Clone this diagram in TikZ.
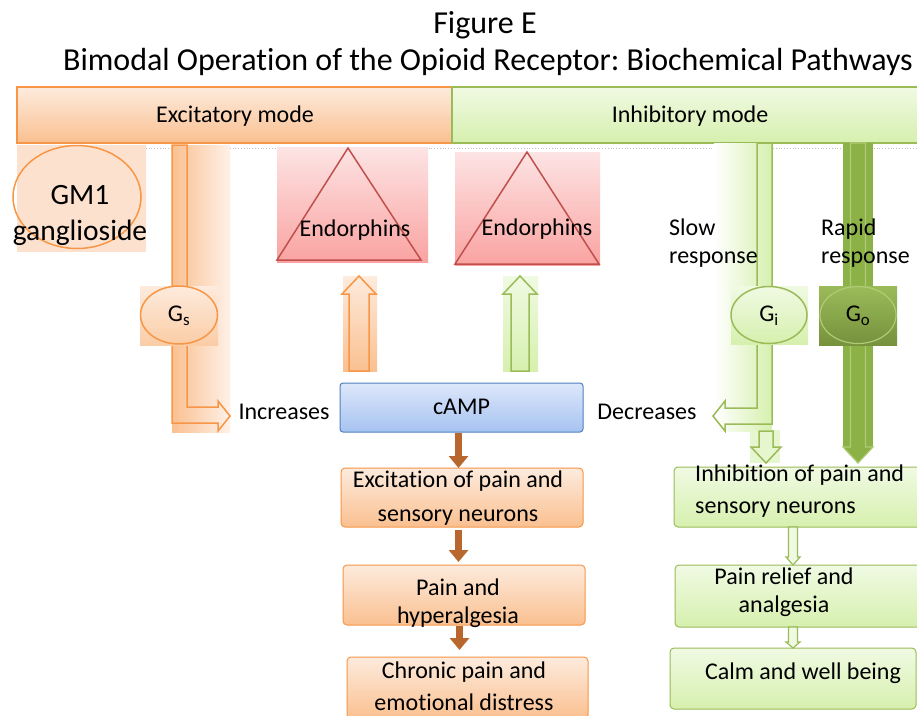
\documentclass[tikz,border=0pt]{standalone}
\usepackage{fontspec}
\setmainfont{Carlito}[Ligatures=CommonOff]
\usetikzlibrary{shapes.geometric,arrows.meta,calc}
\definecolor{orB}{HTML}{F79646}
\definecolor{orT}{HTML}{FDEBDD}
\definecolor{orBt}{HTML}{FAC090}
\definecolor{orL}{HTML}{FEF1E8}
\definecolor{grB}{HTML}{9BBB59}
\definecolor{grT}{HTML}{F0FAE3}
\definecolor{grBt}{HTML}{D6F0AE}
\definecolor{rdB}{HTML}{C0504D}
\definecolor{pkT}{HTML}{FDE4E4}
\definecolor{pkB}{HTML}{F9A3A1}
\definecolor{blB}{HTML}{4F81BD}
\definecolor{blT}{HTML}{DDE7FA}
\definecolor{blBt}{HTML}{A6C3F1}
\definecolor{brn}{HTML}{B8672E}
\definecolor{dgr}{HTML}{8CB146}
\definecolor{dgrT}{HTML}{9BBB59}
\definecolor{dgrB}{HTML}{76923C}
\definecolor{dgrL}{HTML}{AECB76}
\newcommand\blockarrow[6][]{%
  \path[#1] let \p1=(#2), \p2=(#3) in
   ({\x1-#4},{\y1}) -- ({\x1+#4},{\y1}) -- ({\x1+#4},{\y2+#6}) -- ({\x1+#5},{\y2+#6}) -- ({\x1},{\y2})
   -- ({\x1-#5},{\y2+#6}) -- ({\x1-#4},{\y2+#6}) -- cycle;}
\tikzset{
  box/.style={inner sep=0pt, outer sep=0pt, anchor=north west},
  obox/.style={box, draw=orB, line width=1pt, top color=orT, bottom color=orBt, rounded corners=4pt},
  gbox/.style={box, draw=grB, line width=1pt, top color=grT, bottom color=grBt, rounded corners=4pt},
  pbox/.style={box, top color=pkT, bottom color=pkB},
  txt/.style={inner sep=0pt, font=\fontsize{24}{28}\selectfont, align=center},
  ltxt/.style={txt, align=left, anchor=west},
  ttl/.style={inner sep=0pt, font=\fontsize{32}{36}\selectfont, anchor=base},
  brarrow/.style={line width=7pt, brn, -{Triangle[width=19pt,length=12pt]}},
  tri/.style={draw=rdB, line width=1.5pt},
}
\begin{document}
\frenchspacing
\begin{tikzpicture}[x=1pt,y=-1pt]
\useasboundingbox (0,0) rectangle (917,715);
\fill[white] (0,0) rectangle (917,715);

% titles
\node[ttl] (t1) at (485,33) {Figure E};
\node[ttl] (t2) at (488,70) {Bimodal Operation of the Opioid Receptor: Biochemical Pathways};

% mode bars
\node[box, draw=orB, line width=1.5pt, top color=orT, bottom color=orBt, minimum width=435pt, minimum height=56pt] (exm) at (17,87) {};
\node[box, draw=grB, line width=1.5pt, top color=grT, bottom color=grBt, minimum width=470pt, minimum height=56pt] (inm) at (452,87) {};
\node[txt] (exmt) at (235,116) {Excitatory mode};
\node[txt] (inmt) at (690,116) {Inhibitory mode};
\coordinate (dotend) at (917,148);
\draw[gray!50, dotted, line width=0.8pt] ([yshift=-5pt]exm.south west) -- (dotend);

% GM1
\node[box, fill=orT!80!orBt, minimum width=129pt, minimum height=107pt] (gmbg) at (17,145) {};
\node[ellipse, draw=orB, line width=1.5pt, minimum width=128pt, minimum height=103pt, inner sep=0pt] (gm) at (77,197) {};
\node[inner sep=0pt, font=\fontsize{29.5}{36}\selectfont, align=center] (gmt) at (80,215) {GM1\\ganglioside};

% left orange strip and bent arrow
\node[box, left color=orBt, right color=orL, minimum width=58pt, minimum height=287pt] (ls) at (172,145) {};
\draw[orB, line width=1.5pt] (172,145) -- (187,145) -- (187,407) -- (218,407) -- (218,401) -- (230,416)
   -- (218,431) -- (218,423) -- (172,423) -- cycle;

% Gs
\node[box, top color=orT, bottom color=orBt!80, minimum width=78pt, minimum height=59pt] (gsbg) at (140,286) {};
\node[ellipse, draw=orB, line width=1.5pt, top color=orT, bottom color=orBt!80, minimum width=77pt, minimum height=58pt, inner sep=0pt] (gs) at (179,315) {};
\node[txt] (gst) at ([yshift=-1pt]gs.center) {G\textsubscript{s}};

% Endorphins
\node[pbox, minimum width=151pt, minimum height=115pt] (e1) at (277,147) {};
\draw[tri] (348,148) -- (421,260) -- (277,260) -- cycle;
\node[txt] (e1t) at (355,230) {Endorphins};
\node[pbox, minimum width=145pt, minimum height=113pt] (e2) at (455,152) {};
\draw[tri] (527,152) -- (599,264) -- (455,264) -- cycle;
\node[txt] (e2t) at (537,229) {Endorphins};

% up arrows
\node[box, top color=orT, bottom color=orBt, minimum width=34pt, minimum height=95pt] (ua1bg) at (343,276) {};
\coordinate (ua1s) at (359,371);
\coordinate (ua1e) at (359,276);
\blockarrow[draw=orB, line width=1.5pt]{ua1s}{ua1e}{10pt}{17pt}{(-18pt)}
\node[box, top color=grT, bottom color=grBt, minimum width=35pt, minimum height=95pt] (ua2bg) at (503,276) {};
\coordinate (ua2s) at (520,371);
\coordinate (ua2e) at (520,276);
\blockarrow[draw=grB, line width=1.5pt]{ua2s}{ua2e}{9pt}{17pt}{(-18pt)}

% cAMP
\node[box, draw=blB, line width=1pt, top color=blT, bottom color=blBt, rounded corners=3pt, minimum width=243pt, minimum height=49pt] (camp) at (340,383) {};
\node[txt] (campt) at ([yshift=1pt]camp.center) {cAMP};
\node[txt] (inc) at (284,412) {Increases};
\node[txt] (dec) at (647,412) {Decreases};

% orange chain
\node[obox, minimum width=242pt, minimum height=59pt] (exc) at (341,468) {};
\node[txt, font=\fontsize{24}{34}\selectfont] (exct) at (458,498) {Excitation of pain and\\sensory neurons};
\node[obox, minimum width=242pt, minimum height=60pt] (pain) at (343,565) {};
\node[txt] (paint) at (458,603) {Pain and\\hyperalgesia};
\node[obox, minimum width=241pt, minimum height=62pt] (chr) at (347,657) {};
\node[txt, font=\fontsize{24}{32}\selectfont] (chrt) at (464,686) {Chronic pain and\\emotional distress};
\draw[brarrow] ([xshift=-3pt, yshift=-1pt]camp.south) -- ([xshift=-3pt]camp.south |- exc.north);
\draw[brarrow] ([xshift=-3pt, yshift=-3pt]camp.south |- exc.south) -- ([xshift=-3pt, yshift=3pt]camp.south |- pain.north);
\draw[brarrow] ([xshift=-2pt, yshift=-1pt]camp.south |- pain.south) -- ([xshift=-2pt, yshift=7pt]camp.south |- chr.north);

% slow response
\node[box, left color=white, right color=grBt, minimum width=58pt, minimum height=288pt] (ss) at (714,143) {};
\node[box, fill=grT!60!grBt, minimum width=30pt, minimum height=33pt] (sdbg) at (750,430) {};
\draw[grB, line width=1.5pt] (757,143) -- (772,143) -- (772,424) -- (725,424) -- (725,431) -- (713,416)
   -- (725,401) -- (725,408) -- (757,408) -- cycle;
\coordinate (sd1) at (766,431);
\coordinate (sd2) at (766,463);
\blockarrow[draw=grB, line width=1.5pt]{sd1}{sd2}{7pt}{15pt}{16pt}
\node[ltxt] (slow) at (669,243) {Slow\\response};

% Gi
\node[box, top color=grT, bottom color=grBt, minimum width=77pt, minimum height=58pt] (gibg) at (731,286) {};
\node[ellipse, draw=grB, line width=1.5pt, top color=grT, bottom color=grBt, minimum width=76pt, minimum height=57pt, inner sep=0pt] (gi) at (769,315) {};
\node[txt] (git) at ([yshift=-1pt]gi.center) {G\textsubscript{i}};

% rapid response
\node[box, fill=dgr, minimum width=30pt, minimum height=304pt] (rs) at (843,143) {};
\coordinate (rd1) at (858,143);
\coordinate (rd2) at (858,463);
\blockarrow[fill=dgr, draw=dgrL, line width=1.2pt]{rd1}{rd2}{7.5pt}{15pt}{16pt}
\node[ltxt] (rapid) at (821,243) {Rapid\\response};

% Go
\node[box, top color=dgrT, bottom color=dgrB, minimum width=78pt, minimum height=59pt] (gobg) at (819,286) {};
\node[ellipse, draw=dgrL, line width=1.2pt, top color=dgrT, bottom color=dgrB, minimum width=76pt, minimum height=57pt, inner sep=0pt] (go) at (858,315) {};
\node[txt] (got) at ([yshift=-1pt]go.center) {G\textsubscript{o}};

% green chain
\node[gbox, minimum width=250pt, minimum height=60pt] (inh) at (674,467) {};
\node[ltxt, font=\fontsize{24}{32}\selectfont] (inht) at (695,491) {Inhibition of pain and\\sensory neurons};
\node[gbox, minimum width=250pt, minimum height=62pt] (rel) at (675,565) {};
\node[txt] (relt) at (784,592) {Pain relief and\\analgesia};
\node[gbox, minimum width=246pt, minimum height=61pt] (calm) at (670,648) {};
\node[txt] (calmt) at (803,673) {Calm and well being};
\coordinate (gx) at (793,0);
\blockarrow[fill=grT, draw=grB, line width=1.2pt]{inh.south -| gx}{rel.north -| gx}{4.5pt}{7pt}{8pt}
\blockarrow[fill=grT, draw=grB, line width=1.2pt]{rel.south -| gx}{calm.north -| gx}{4.5pt}{7pt}{6pt}
\end{tikzpicture}
\end{document}
